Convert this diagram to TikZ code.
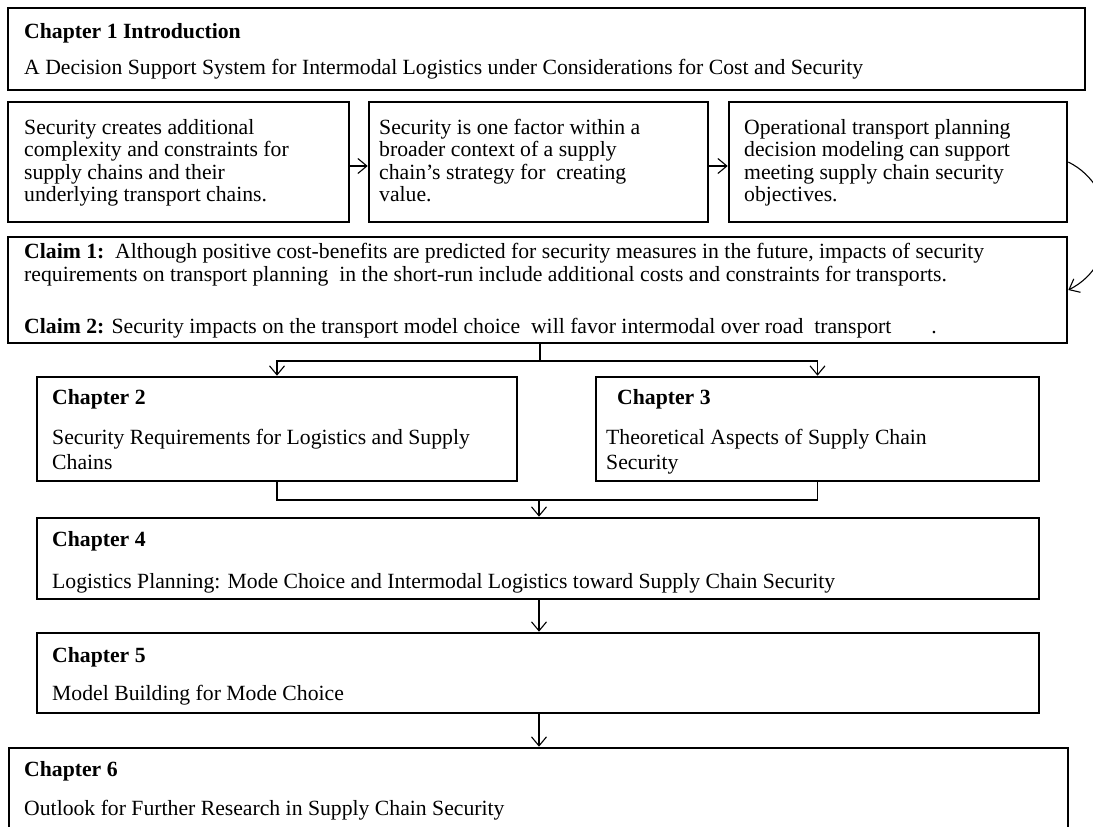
\documentclass[tikz,border=0pt]{standalone}
\usepackage{fontspec}
\setmainfont{Liberation Serif}
\usetikzlibrary{arrows.meta}
\begin{document}
\begin{tikzpicture}[x=1pt,y=-1pt,
  box/.style={draw=black, line width=2.6pt, rectangle, inner sep=0pt},
  txt/.style={inner sep=0pt, anchor=base west, font=\fontsize{21.7}{22.5}\selectfont},
  wide/.style={font=\fontsize{21.7}{25}\selectfont},
  conn/.style={draw=black, line width=1.1pt},
  arr/.style={conn, -{Straight Barb[length=9pt,width=15pt,line width=1.1pt]}},
]
\useasboundingbox (0,0) rectangle (1093,827);
\fill[white] (0,0) rectangle (1093,827);
\clip (0,0) rectangle (1093,827);

% chapter boxes
\node[box, minimum width=1077pt, minimum height=82pt]  (ch1)    at (546.5,49)  {};
\node[box, minimum width=341pt,  minimum height=120pt] (a)      at (178.5,162) {};
\node[box, minimum width=339pt,  minimum height=120pt] (b)      at (538.5,162) {};
\node[box, minimum width=338pt,  minimum height=120pt] (c)      at (898,162)   {};
\node[box, minimum width=1059pt, minimum height=106pt] (claims) at (537.5,290) {};
\node[box, minimum width=480pt,  minimum height=104pt] (ch2)    at (277,429)   {};
\node[box, minimum width=443pt,  minimum height=104pt] (ch3)    at (817.5,429) {};
\node[box, minimum width=1002pt, minimum height=81pt]  (ch4)    at (538,558.5) {};
\node[box, minimum width=1002pt, minimum height=80pt]  (ch5)    at (538,673)   {};
\node[box, minimum width=1059pt, minimum height=132pt] (ch6)    at (538.5,814) {};

% texts
\node[txt] (t1a) at (24,38) {\textbf{Chapter 1 Introduction}};
\node[txt] (t1b) at (24,74) {A Decision Support System for Intermodal Logistics under Considerations for Cost and Security};

\node[txt] (ta) at (24,134) {\begin{tabular}[t]{@{}l@{}}Security creates additional\\complexity and constraints for\\supply chains and their\\underlying transport chains.\end{tabular}};
\node[txt] (tb) at (379,134) {\begin{tabular}[t]{@{}l@{}}Security is one factor within a\\broader context of a supply\\chain’s strategy for\ \ creating\\value.\end{tabular}};
\node[txt] (tc) at (744,134) {\begin{tabular}[t]{@{}l@{}}Operational transport planning\\decision modeling can support\\meeting supply chain security\\objectives.\end{tabular}};

\node[txt, font=\fontsize{21.7}{23}\selectfont] (tcl1) at (24,258) {\begin{tabular}[t]{@{}l@{}}\textbf{Claim 1:}\ \ Although positive cost-benefits are predicted for security measures in the future, impacts of security\\requirements on transport planning\ \ in the short-run include additional costs and constraints for transports.\end{tabular}};
\node[txt] (tcl2) at (24,333) {\textbf{Claim 2:} Security impacts on the transport model choice\ \ will favor intermodal over road\ \ transport\hspace{40pt}.};

\node[txt] (t2a) at (52,404) {\textbf{Chapter 2}};
\node[txt, wide] (t2b) at (52,444) {\begin{tabular}[t]{@{}l@{}}Security Requirements for Logistics and Supply\\Chains\end{tabular}};
\node[txt] (t3a) at (617,404) {\textbf{Chapter 3}};
\node[txt, wide] (t3b) at (606,444) {\begin{tabular}[t]{@{}l@{}}Theoretical Aspects of Supply Chain\\Security\end{tabular}};

\node[txt] (t4a) at (52,546) {\textbf{Chapter 4}};
\node[txt] (t4b) at (52,588) {Logistics Planning: Mode Choice and Intermodal Logistics toward Supply Chain Security};
\node[txt] (t5a) at (52,662) {\textbf{Chapter 5}};
\node[txt] (t5b) at (52,700) {Model Building for Mode Choice};
\node[txt] (t6a) at (24,776) {\textbf{Chapter 6}};
\node[txt] (t6b) at (24,815) {Outlook for Further Research in Supply Chain Security};

% connectors
\draw[arr] ([yshift=-4pt]a.east) -- ([yshift=-4pt]b.west);
\draw[arr] ([yshift=-4pt]b.east) -- ([yshift=-4pt]c.west);
\draw[arr] (c.east) .. controls +(52,26) and +(52,-26) .. (claims.east);

\coordinate (split) at (540,361);
\draw[conn] (claims.south -| split) -- (split);
\draw[arr] (split) -| (ch2.north);
\draw[arr] (split) -| (ch3.north);

\coordinate (merge) at (539,500);
\draw[conn] (ch2.south) |- (merge);
\draw[conn] (ch3.south) |- (merge);
\draw[arr] (merge) -- (merge |- ch4.north);
\draw[arr] (ch4.south -| merge) -- (ch5.north -| merge);
\draw[arr] (ch5.south -| merge) -- (ch6.north -| merge);
\end{tikzpicture}
\end{document}
